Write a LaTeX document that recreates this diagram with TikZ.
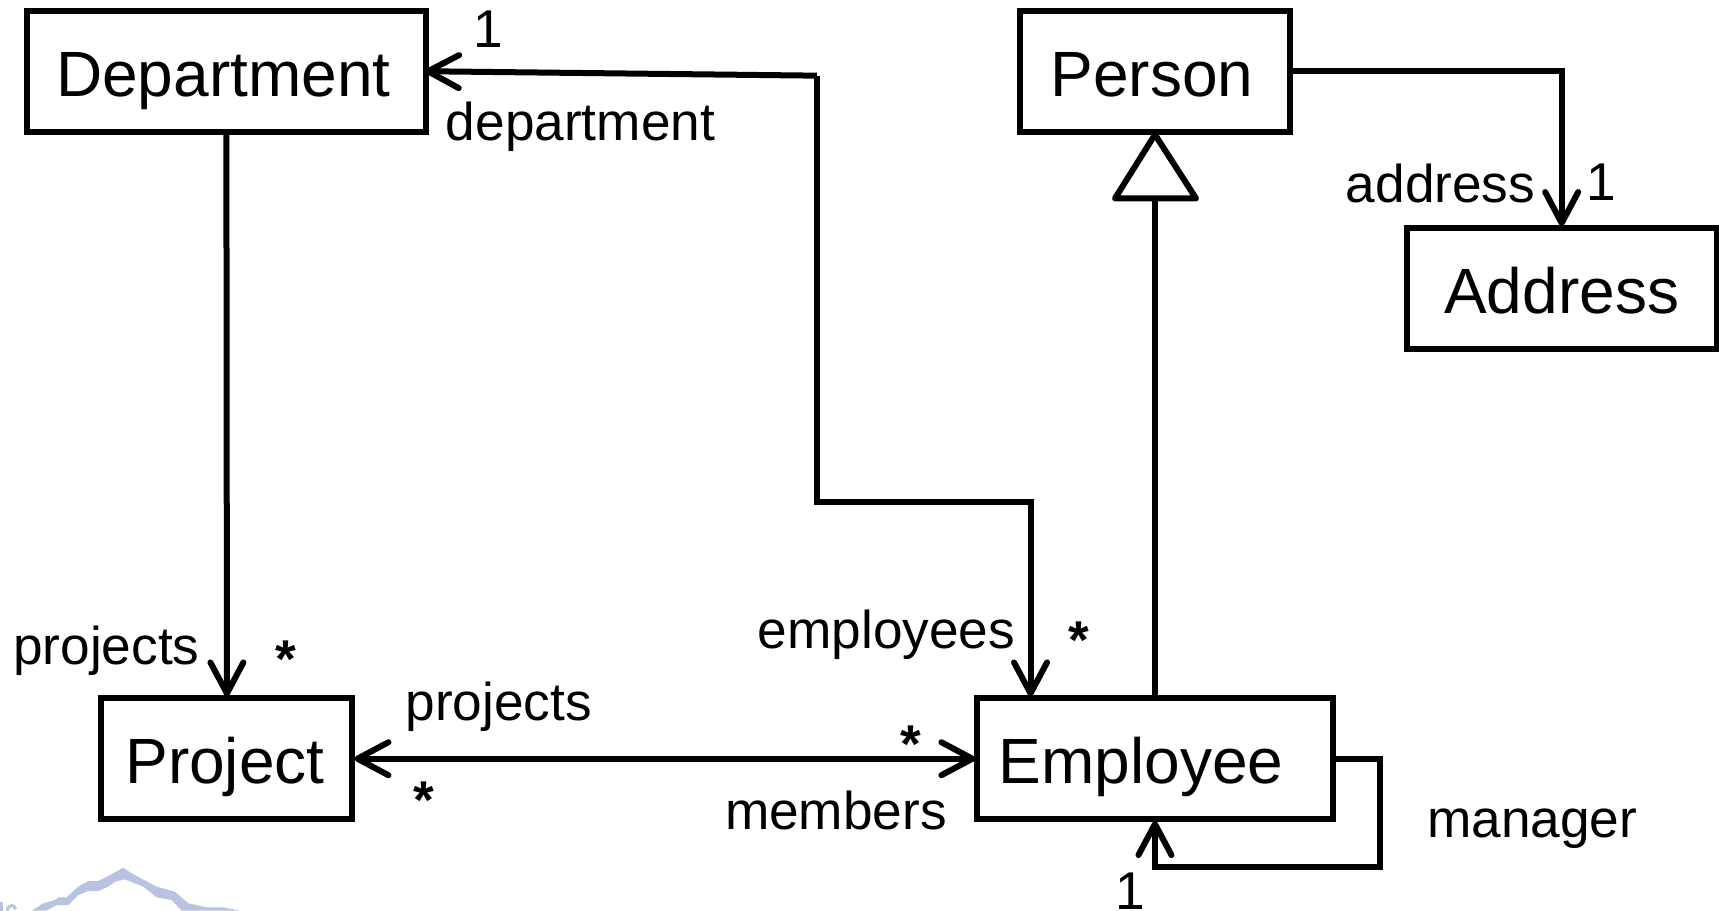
\documentclass[tikz,border=0pt]{standalone}
\usepackage{fontspec}
\setmainfont{Liberation Sans}
\usetikzlibrary{arrows.meta}
\tikzset{
  x=1.09630pt,y=-1.09640pt,
  umlbox/.style={draw=black,line width=6pt,fill=white,inner sep=0pt,font=\fontsize{64}{70}\selectfont,minimum height={110*1.0964pt},text height=50.4pt,text depth=0pt},
  link/.style={draw=black,line width=6pt,line join=miter},
  lbl/.style={anchor=base,inner sep=0pt,outer sep=0pt,font=\fontsize{53.2}{60}\selectfont,text=black},
  starlbl/.style={lbl,font=\fontsize{53.2}{60}\selectfont\bfseries},
  headtip/.tip={Straight Barb[length=31pt,width=33pt,line width=6pt,round]},
}
\definecolor{wm}{HTML}{B7C3E0}
\begin{document}
\begin{tikzpicture}
\useasboundingbox (0,0) rectangle (1568,830);
% faint logo fragment in the corner
\begin{scope}[shift={(0,747.9)},x=0.3333pt,y=-0.3333pt]
\fill[wm] (95,272) -- (130,250) -- (165,240) -- (175,232) -- (200,232) -- (235,200) -- (265,183) -- (295,183) -- (325,168) -- (370,143) -- (395,160) -- (470,200) -- (525,215) -- (565,250) -- (620,262) -- (670,262) -- (720,272) -- (545,272) -- (515,240) -- (470,232) -- (430,200) -- (375,178) -- (345,185) -- (325,200) -- (295,213) -- (265,213) -- (235,225) -- (205,255) -- (170,255) -- (140,272) -- cycle;
\fill[wm] (0,245) rectangle (8,272);
\draw[wm,line width=3pt] (22,272) .. controls (24,252) and (44,252) .. (47,268);
\end{scope}
% boxes
\node[umlbox,minimum width={364*1.0963pt}] (dept) at (206.5,65) {Department\hspace*{6pt}};
\node[umlbox,minimum width={246*1.0963pt}] (person) at (1053.5,65) {Person\hspace*{6pt}};
\node[umlbox,minimum width={283*1.0963pt}] (addr) at (1424.5,263) {Address};
\node[umlbox,minimum width={229*1.0963pt}] (proj) at (207,692) {Project\hspace*{4pt}};
\node[umlbox,minimum width={324*1.0963pt}] (emp) at (1053.5,692) {Employee\hspace*{28pt}};
% bend points
\coordinate (b1) at (745,69);
\coordinate (b2) at (745,458);
\coordinate (b3) at (940,458);
\coordinate (c1) at (1259,692);
\coordinate (c2) at (1259,791);
\coordinate (tl) at (1017,181);
\coordinate (tr) at (1091,181);
\coordinate (tb) at (1053.5,181);
% connectors
\draw[link,-headtip,shorten >=-4pt] (b1) -- (dept.east);
\draw[link,-headtip,shorten >=-1pt] (b1) -- (b2) -- (b3) -- (b3 |- emp.north);
\draw[link,-headtip,shorten >=-1pt] (dept.south) -- (proj.north);
\draw[link,headtip-headtip,shorten >=-1pt,shorten <=-1pt] (proj.east) -- (emp.west);
\draw[link,-headtip,shorten >=-1pt] (person.east) -| (addr.north);
\draw[link,-headtip,shorten >=-1pt] (emp.east) -- (c1) -- (c2) -- (emp.south |- c2) -- (emp.south);
\draw[link] (emp.north) -- (tb);
\draw[link,fill=white,line join=round] (person.south) -- (tl) -- (tr) -- cycle;
% labels
\node[lbl] (l1) at (529.5,128) {department};
\node[lbl] (l2) at (97,606) {projects};
\node[lbl] (l3) at (455,657) {projects};
\node[lbl] (l4) at (808.5,591.5) {employees};
\node[lbl] (l5) at (762.5,757) {members};
\node[lbl] (l6) at (1397.5,764) {manager};
\node[lbl] (l7) at (1314,185) {address};
\node[lbl] (n1) at (445,43) {1};
\node[lbl] (n2) at (1461,183) {1};
\node[lbl] (n3) at (1031,829.5) {1};
\node[starlbl] (s1) at (260.5,618) {*};
\node[starlbl] (s2) at (984,601) {*};
\node[starlbl] (s3) at (831,695) {*};
\node[starlbl] (s4) at (387,746.5) {*};
\end{tikzpicture}
\end{document}
